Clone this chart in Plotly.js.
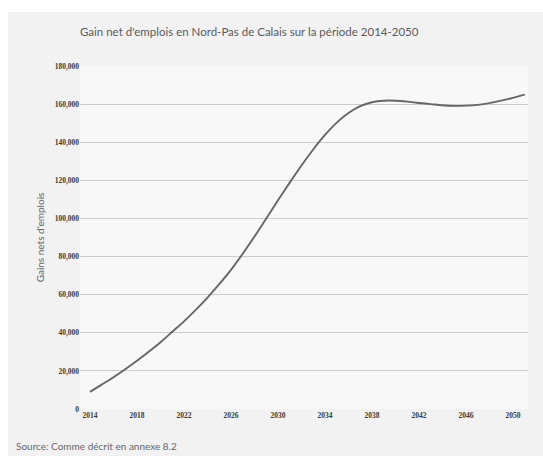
<!DOCTYPE html>
<html>
<head>
<meta charset="utf-8">
<script src="https://cdn.plot.ly/plotly-3.0.1.min.js"></script>
<style>
  html, body { margin: 0; padding: 0; background: #ffffff; width: 543px; height: 456px; overflow: hidden; }
  #chart { position: absolute; left: 8px; top: 12px; width: 535px; height: 444px; }
</style>
</head>
<body>
<div id="chart"></div>
<script>
// Net job gains, Nord-Pas de Calais
const years = [2014, 2015, 2016, 2017, 2018, 2019, 2020, 2021, 2022, 2023,
               2024, 2025, 2026, 2027, 2028, 2029, 2030, 2031, 2032, 2033,
               2034, 2035, 2036, 2037, 2038, 2039, 2040, 2041, 2042, 2043,
               2044, 2045, 2046, 2047, 2048, 2049, 2050, 2051];
const netJobs = [9000, 12800, 16700, 20900, 25300, 30000, 35000, 40500, 46000, 52000,
                 58500, 65500, 73000, 81500, 90500, 100000, 109500, 118800, 127800, 136200,
                 143800, 150300, 155300, 158900, 161000, 161800, 161800, 161300, 160600, 160000,
                 159400, 159100, 159200, 159600, 160500, 161800, 163300, 165000];
const xTickYears = [2014, 2018, 2022, 2026, 2030, 2034, 2038, 2042, 2046, 2050];
const xTickLabels = xTickYears.map(String);
const yTickValues = [0, 20000, 40000, 60000, 80000, 100000, 120000, 140000, 160000, 180000];

const tickFont = { family: 'Liberation Serif, DejaVu Serif, serif', size: 7.5, color: '#3a3a3a', weight: 'bold' };

Plotly.newPlot('chart', [{
  x: years,
  y: netJobs,
  type: 'scatter',
  mode: 'lines',
  line: { color: '#666666', width: 1.9, shape: 'spline', smoothing: 0.8 },
  hoverinfo: 'skip'
}], {
  width: 535,
  height: 444,
  margin: { l: 72, r: 15, t: 54, b: 47 },
  paper_bgcolor: '#f2f2f2',
  plot_bgcolor: '#f8f8f8',
  showlegend: false,
  title: {
    text: "Gain net d'emplois en Nord-Pas de Calais sur la période 2014-2050",
    font: { family: 'Lato, Open Sans, sans-serif', size: 11.5, color: '#5a5a5a' },
    xref: 'paper', x: 0, xanchor: 'left',
    yref: 'container', y: 0.955, yanchor: 'middle'
  },
  xaxis: {
    range: [2013.15, 2051.28],
    tickmode: 'array',
    tickvals: xTickYears,
    ticktext: xTickLabels,
    tickfont: tickFont,
    ticks: '',
    showgrid: false,
    zeroline: false,
    showline: false
  },
  yaxis: {
    range: [0, 180000],
    tickmode: 'array',
    tickvals: yTickValues,
    tickformat: ',d',
    tickfont: tickFont,
    ticks: '',
    showgrid: true,
    gridcolor: '#cccccc',
    gridwidth: 1,
    zeroline: false,
    showline: false,
    title: {
      text: "Gains nets d'emplois",
      font: { family: 'Lato, Open Sans, sans-serif', size: 10, color: '#666' },
      standoff: 8
    }
  },
  annotations: [{
    text: 'Source: Comme décrit en annexe 8.2',
    xref: 'paper', yref: 'paper',
    x: -0.148, y: -0.085,
    xanchor: 'left', yanchor: 'top',
    showarrow: false,
    font: { family: 'Lato, Open Sans, sans-serif', size: 10, color: '#666' }
  }]
}, { displayModeBar: false, staticPlot: true });
</script>
</body>
</html>
